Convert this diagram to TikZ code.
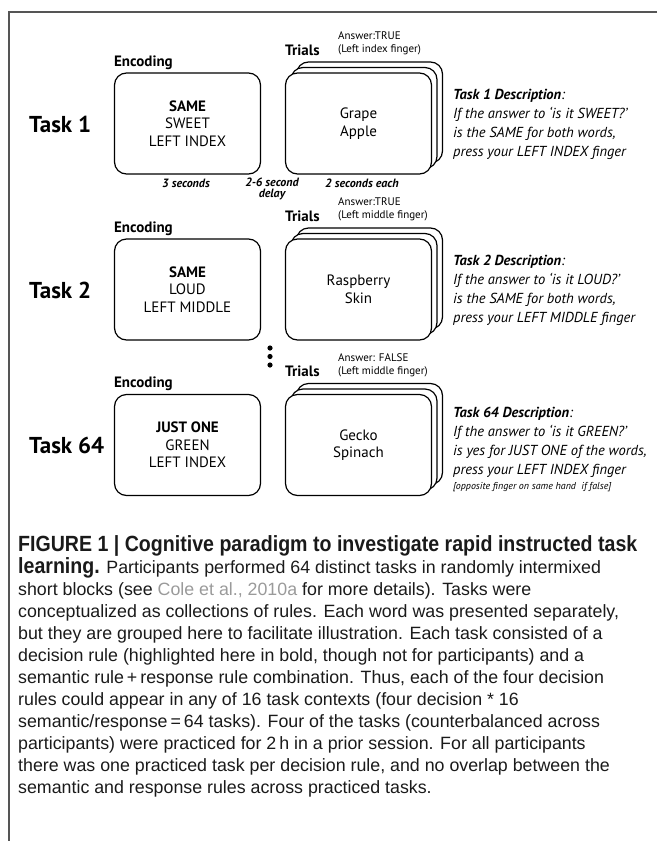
\documentclass[tikz,border=0pt]{standalone}
\usepackage{fontspec}
\usepackage{tikz}
\usetikzlibrary{positioning,arrows}
\newfontfamily\figfont{PT Sans}
\newfontfamily\capfont{Liberation Sans}
\newfontfamily\capboldfont[FakeStretch=0.89]{Liberation Sans}
\definecolor{framegray}{HTML}{555555}
\definecolor{linkgray}{HTML}{9A9A9A}
\definecolor{captext}{HTML}{1A1A1A}
\tikzset{
  card/.style = {draw=black, line width=1.2pt, fill=white, rounded corners=12pt,
    minimum width=146pt, minimum height=101pt, inner sep=0pt, align=center,
    font=\figfont\fontsize{15}{17.5}\selectfont},% screen box
  tasklbl/.style = {anchor=west, inner sep=0pt,
    font=\figfont\bfseries\fontsize{23}{26}\selectfont},
  enclbl/.style = {inner sep=0pt, font=\figfont\bfseries\fontsize{15}{17}\selectfont},
  anslbl/.style = {anchor=west, align=left, inner sep=0pt,
    font=\figfont\fontsize{11}{13}\selectfont},% answer over trials
  desclbl/.style = {anchor=north west, align=left, inner sep=0pt,
    font=\figfont\itshape\fontsize{14.5}{19}\selectfont},
  timelbl/.style = {align=center, inner sep=0pt,
    font=\figfont\bfseries\itshape\fontsize{12}{11}\selectfont},
  vdot/.style = {circle, fill=black, inner sep=0pt, minimum size=5.2pt}
}

\begin{document}
\begin{tikzpicture}[x=1pt,y=-1pt]
\useasboundingbox (0,0) rectangle (657,841);
% frame
\coordinate (ftop) at (657,12);
\coordinate (fcorner) at (9,12);
\coordinate (fbot) at (9,841);
\draw[framegray, line width=1.4pt] (ftop) -- (fcorner) -- (fbot);
%
% task 1
\node (task1) [tasklbl] at (29,124) {Task 1};
\node (enc1) [card] at (187.5,123.5) {\textbf{SAME}\\SWEET\\LEFT INDEX};
\node (enc1l) [enclbl, above right=3pt and 0pt of enc1.north west] {Encoding};
\node (trl1c) [card] at (369.5,112.5) {};
\node (trl1b) [card] at (364,118) {};
\node (trl1) [card] at (358.5,123.5) {Grape\\Apple};
\node (trl1l) [enclbl, anchor=base west] at (285,55) {Trials};
\node (ans1) [anslbl] at (338,43.5) {Answer:TRUE\\(Left index finger)};
\node (desc1) [desclbl] at (453,89) {\textbf{Task 1 Description}:\\If the answer to ‘is it SWEET?’\\is the SAME for both words,\\press your LEFT INDEX finger};
\node (sec3) [timelbl] at (186,183) {3 seconds};
\node (delay) [timelbl, anchor=north] at (272,178) {2-6 second\\delay};
\node (sec2) [timelbl] at (362,183) {2 seconds each};
%
% task 2
\node (task2) [tasklbl] at (29,290) {Task 2};
\node (enc2) [card] at (187.5,289.5) {\textbf{SAME}\\LOUD\\LEFT MIDDLE};
\node (enc2l) [enclbl, above right=3pt and 0pt of enc2.north west] {Encoding};
\node (trl2c) [card] at (369.5,278.5) {};
\node (trl2b) [card] at (364,284) {};
\node (trl2) [card] at (358.5,289.5) {Raspberry\\Skin};
\node (trl2l) [enclbl, anchor=base west] at (285,221) {Trials};
\node (ans2) [anslbl] at (338,209.5) {Answer:TRUE\\(Left middle finger)};
\node (desc2) [desclbl] at (453,255) {\textbf{Task 2 Description}:\\If the answer to ‘is it LOUD?’\\is the SAME for both words,\\press your LEFT MIDDLE finger};
%
\foreach \i/\y in {1/348,2/356.5,3/365}
  \node (dot\i) [vdot] at (270,\y) {};
%
% task 64
\node (task64) [tasklbl] at (29,445) {Task 64};
\node (enc64) [card] at (187.5,445) {\textbf{JUST ONE}\\GREEN\\LEFT INDEX};
\node (enc64l) [enclbl, above right=3pt and 0pt of enc64.north west] {Encoding};
\node (trl64c) [card] at (369.5,434) {};
\node (trl64b) [card] at (364,439.5) {};
\node (trl64) [card] at (358.5,445) {Gecko\\Spinach};
\node (trl64l) [enclbl, anchor=base west] at (285,376) {Trials};
\node (ans64) [anslbl] at (338,365.5) {Answer: FALSE\\(Left middle finger)};
\node (desc64) [desclbl] at (453,407) {\textbf{Task 64 Description}:\\If the answer to ‘is it GREEN?’\\is yes for JUST ONE of the words,\\press your LEFT INDEX finger\\[-4pt]{\fontsize{10}{11}\selectfont [opposite finger on same hand\ \ if false]}};
%
% caption
\node (cap) [anchor=north west, align=left, inner sep=0pt, text=captext,
  font=\capfont\fontsize{17.8}{22}\selectfont] at (18,535) {%
{\capboldfont\bfseries\fontsize{22}{22}\selectfont FIGURE 1 | Cognitive paradigm to investigate rapid instructed task}\\
{\capboldfont\bfseries\fontsize{22}{22}\selectfont learning.} Participants performed 64 distinct tasks in randomly intermixed\\
short blocks (see {\color{linkgray}Cole et al., 2010a} for more details). Tasks were\\
conceptualized as collections of rules. Each word was presented separately,\\
but they are grouped here to facilitate illustration. Each task consisted of a\\
decision rule (highlighted here in bold, though not for participants) and a\\
semantic rule\,+\,response rule combination. Thus, each of the four decision\\
rules could appear in any of 16 task contexts (four decision * 16\\
semantic/response\,=\,64 tasks). Four of the tasks (counterbalanced across\\
participants) were practiced for 2\,h in a prior session. For all participants\\
there was one practiced task per decision rule, and no overlap between the\\
semantic and response rules across practiced tasks.};
\end{tikzpicture}
\end{document}
